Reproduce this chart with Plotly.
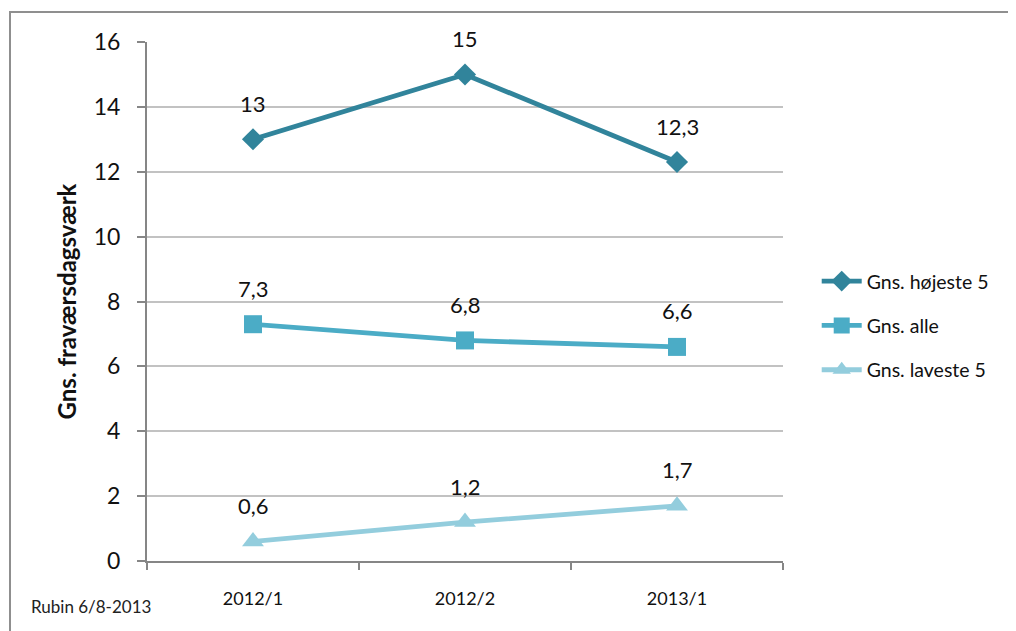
import plotly.graph_objects as go

categories = ["2012/1", "2012/2", "2013/1"]
hojeste = [13, 15, 12.3]
alle = [7.3, 6.8, 6.6]
laveste = [0.6, 1.2, 1.7]
series_names = ["Gns. højeste 5", "Gns. alle", "Gns. laveste 5"]
y_ticks = [0, 2, 4, 6, 8, 10, 12, 14, 16]

colors = ["#31849B", "#4BACC6", "#93CDDD"]
symbols = ["diamond", "square", "triangle-up"]
sizes = [17, 18, 19]

FONT = "Lato, 'Open Sans', sans-serif"

fig = go.Figure()
for i, (name, vals) in enumerate(zip(series_names, [hojeste, alle, laveste])):
    fig.add_trace(go.Scatter(
        x=categories, y=vals, name=name, mode="lines+markers",
        line=dict(color=colors[i], width=4.8),
        marker=dict(symbol=symbols[i], size=sizes[i], color=colors[i]),
        legendgroup=name,
    ))
    for c, v in zip(categories, vals):
        fig.add_annotation(x=c, y=v, text=f"{v:g}".replace(".", ","),
                           showarrow=False, yshift=36,
                           font=dict(family=FONT, size=22, color="#111111"))

fig.add_annotation(xref="paper", yref="paper", x=-0.186, y=-0.088,
                   xanchor="left", yanchor="middle", text="Rubin 6/8-2013",
                   showarrow=False, font=dict(family=FONT, size=17, color="#222222"))

fig.add_shape(type="rect", xref="paper", yref="paper",
              x0=-0.2154, x1=1.6, y0=-0.3, y1=1.0578,
              line=dict(color="#8f8f8f", width=2), fillcolor="rgba(0,0,0,0)",
              layer="below")

fig.update_layout(
    width=1016, height=631,
    margin=dict(l=139, r=241, t=34, b=78),
    paper_bgcolor="white", plot_bgcolor="white",
    font=dict(family=FONT, color="#111111"),
    showlegend=True,
    legend=dict(x=1.053, y=0.453, xanchor="left", yanchor="middle",
                font=dict(family=FONT, size=19.5, color="#111111"),
                tracegroupgap=16, itemwidth=40, bgcolor="rgba(0,0,0,0)"),
    xaxis=dict(
        type="category", range=[-0.5, 2.5], tickson="boundaries",
        showline=True, linecolor="#868686", linewidth=2,
        ticks="outside", ticklen=7, tickcolor="#868686", tickwidth=2,
        showgrid=False, zeroline=False,
        tickfont=dict(family=FONT, size=18, color="#111111"),
        ticklabelstandoff=20,
    ),
    yaxis=dict(
        range=[0, 16], tickvals=y_ticks, showline=True, linecolor="#868686",
        linewidth=2, ticks="outside", ticklen=8, tickcolor="#868686", tickwidth=2,
        showgrid=True, gridcolor="#c2c2c2", gridwidth=2, zeroline=False,
        tickfont=dict(family=FONT, size=23, color="#111111"),
        ticklabelstandoff=12,
        title=dict(text="<b>Gns. fraværsdagsværk</b>", standoff=10,
                   font=dict(family=FONT, size=24, color="#111111")),
    ),
)

fig.write_html("out.html")
